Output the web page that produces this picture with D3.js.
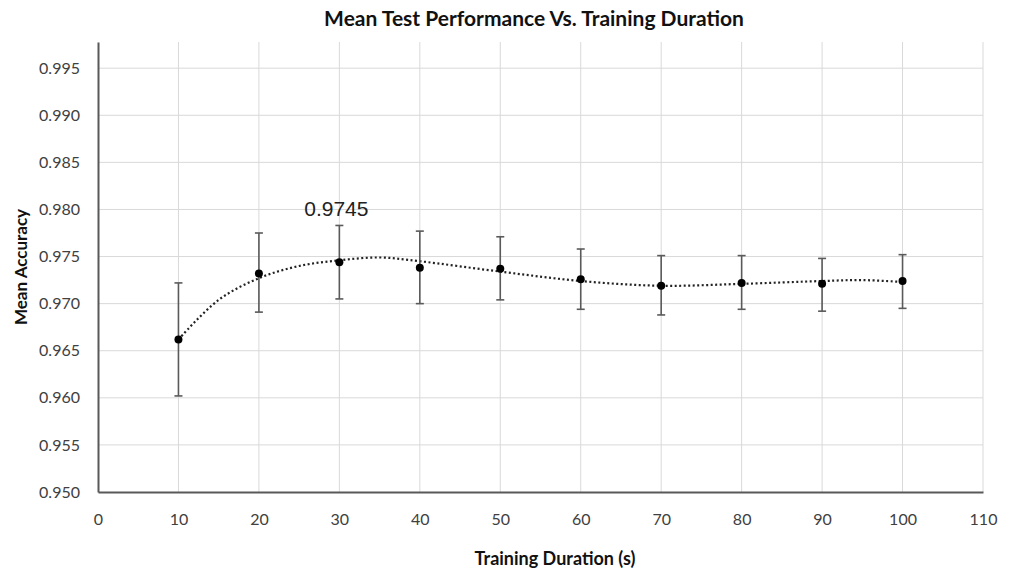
<!DOCTYPE html>
<html>
<head>
<meta charset="utf-8">
<script src="https://cdn.jsdelivr.net/npm/d3@7"></script>
<style>
  body { margin: 0; background: #fff; }
  text { font-family: Lato, "Open Sans", sans-serif; }
</style>
</head>
<body>
<div id="chart"></div>
<script>
// measured values
const durations = [10, 20, 30, 40, 50, 60, 70, 80, 90, 100];
const meanAcc   = [0.9662, 0.9732, 0.9744, 0.9738, 0.9737, 0.9726, 0.9719, 0.9722, 0.9721, 0.9724];
const errHigh   = [0.9722, 0.9775, 0.9783, 0.9777, 0.9771, 0.9758, 0.9751, 0.9751, 0.9748, 0.9752];
const errLow    = [0.9602, 0.9691, 0.9705, 0.9700, 0.9704, 0.9694, 0.9688, 0.9694, 0.9692, 0.9695];

// trendline
const trendX = [10, 15, 20, 25, 30, 35, 40, 50, 60, 70, 80, 90, 95, 100];
const trendY = [0.9662, 0.9704, 0.9727, 0.9740, 0.9746, 0.9749, 0.9745, 0.9734, 0.9724, 0.9719, 0.9721, 0.9724, 0.9725, 0.9723];

const xTicks = d3.range(0, 111, 10);
const yTicks = d3.range(0.950, 0.9951, 0.005);

const width = 1013, height = 571;
const margin = { top: 42, right: 30, bottom: 79, left: 98 };
const innerW = width - margin.left - margin.right;
const innerH = height - margin.top - margin.bottom;

const svg = d3.select('#chart').append('svg')
  .attr('width', width)
  .attr('height', height);

const g = svg.append('g')
  .attr('transform', `translate(${margin.left},${margin.top})`);

const x = d3.scaleLinear().domain([0, 110]).range([0, innerW]);
const y = d3.scaleLinear().domain([0.95, 0.99778]).range([innerH, 0]);

// gridlines
g.append('g')
  .selectAll('line')
  .data(yTicks.slice(1))
  .join('line')
  .attr('x1', 0).attr('x2', innerW)
  .attr('y1', d => y(d)).attr('y2', d => y(d))
  .attr('stroke', '#d9d9d9').attr('stroke-width', 1);

g.append('g')
  .selectAll('line')
  .data(xTicks.slice(1))
  .join('line')
  .attr('x1', d => x(d)).attr('x2', d => x(d))
  .attr('y1', 0).attr('y2', innerH)
  .attr('stroke', '#d9d9d9').attr('stroke-width', 1);

// axes
const xAxis = g.append('g')
  .attr('transform', `translate(0,${innerH})`)
  .call(d3.axisBottom(x).tickValues(xTicks).tickSize(0).tickPadding(22).tickFormat(d3.format('d')));
xAxis.select('.domain').attr('stroke', '#595959').attr('stroke-width', 2);
xAxis.selectAll('text').attr('font-size', 16).attr('fill', '#404040')
  .style('font-family', 'Lato, sans-serif');

const yAxis = g.append('g')
  .call(d3.axisLeft(y).tickValues(yTicks).tickSize(0).tickPadding(18).tickFormat(d3.format('.3f')));
yAxis.select('.domain').attr('stroke', '#595959').attr('stroke-width', 2);
yAxis.selectAll('text').attr('font-size', 16).attr('fill', '#404040')
  .style('font-family', 'Lato, sans-serif');

// trendline
const trend = d3.line()
  .x((d, i) => x(trendX[i]))
  .y(d => y(d))
  .curve(d3.curveCatmullRom);
g.append('path')
  .datum(trendY)
  .attr('fill', 'none')
  .attr('stroke', '#222')
  .attr('stroke-width', 2.2)
  .attr('stroke-dasharray', '2,2.5')
  .attr('d', trend);

// error bars
const bars = g.append('g').selectAll('g')
  .data(durations)
  .join('g')
  .attr('stroke', '#5a5a5a')
  .attr('stroke-width', 1.6);
bars.append('line')
  .attr('x1', d => x(d)).attr('x2', d => x(d))
  .attr('y1', (d, i) => y(errHigh[i])).attr('y2', (d, i) => y(errLow[i]));
bars.append('line')
  .attr('x1', d => x(d) - 4).attr('x2', d => x(d) + 4)
  .attr('y1', (d, i) => y(errHigh[i])).attr('y2', (d, i) => y(errHigh[i]));
bars.append('line')
  .attr('x1', d => x(d) - 4).attr('x2', d => x(d) + 4)
  .attr('y1', (d, i) => y(errLow[i])).attr('y2', (d, i) => y(errLow[i]));

// points
g.append('g').selectAll('circle')
  .data(durations)
  .join('circle')
  .attr('cx', d => x(d))
  .attr('cy', (d, i) => y(meanAcc[i]))
  .attr('r', 4)
  .attr('fill', '#000');

// data label at 30 s
g.append('text')
  .attr('x', x(durations[2]) - 3)
  .attr('y', y(errHigh[2]) - 9)
  .attr('text-anchor', 'middle')
  .attr('font-size', 21)
  .style('font-family', '"Liberation Sans", Arial, sans-serif')
  .attr('fill', '#222')
  .text('0.9745');

// titles
svg.append('text')
  .attr('x', 534)
  .attr('y', 26)
  .attr('text-anchor', 'middle')
  .attr('font-size', 21)
  .attr('font-weight', 'bold')
  .attr('fill', '#111')
  .text('Mean Test Performance Vs. Training Duration');

svg.append('text')
  .attr('x', 555)
  .attr('y', 565)
  .attr('text-anchor', 'middle')
  .attr('font-size', 18)
  .attr('font-weight', 'bold')
  .attr('fill', '#111')
  .text('Training Duration (s)');

svg.append('text')
  .attr('transform', 'rotate(-90)')
  .attr('x', -267)
  .attr('y', 27)
  .attr('text-anchor', 'middle')
  .attr('font-size', 17)
  .attr('font-weight', 'bold')
  .attr('fill', '#111')
  .text('Mean Accuracy');
</script>
</body>
</html>
